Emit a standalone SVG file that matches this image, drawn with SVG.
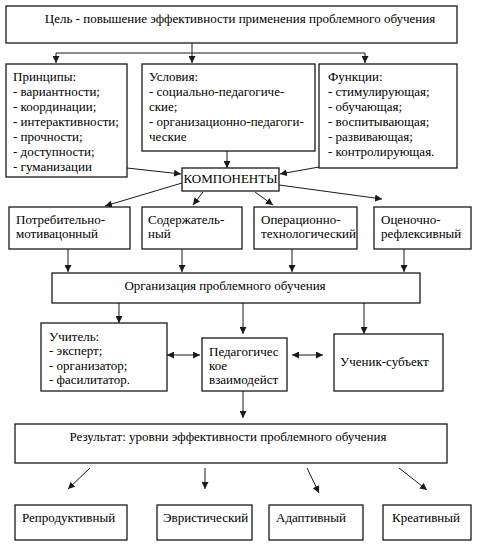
<svg xmlns="http://www.w3.org/2000/svg" width="477" height="546" viewBox="0 0 477 546">
<style>
.box{fill:#fff;stroke:#1a1a1a;stroke-width:1.3}
text{font-family:"Liberation Serif","Times New Roman",serif;font-size:13px;fill:#000}
.c{stroke:#1a1a1a;stroke-width:1;fill:none}
.a{marker-end:url(#ah)}
.d{marker-end:url(#ah);marker-start:url(#as)}
</style>
<defs>
<marker id="ah" viewBox="0 0 10 10" refX="10" refY="5" markerWidth="7" markerHeight="7" markerUnits="userSpaceOnUse" orient="auto"><path d="M0,0 L10,5 L0,10 z" fill="#1a1a1a"/></marker>
<marker id="as" viewBox="0 0 10 10" refX="0" refY="5" markerWidth="7" markerHeight="7" markerUnits="userSpaceOnUse" orient="auto"><path d="M10,0 L0,5 L10,10 z" fill="#1a1a1a"/></marker>
</defs>
<rect width="477" height="546" fill="#fff"/>
<g id="connectors">
<path class="c a" d="M192,43 V63"/>
<path class="c" d="M56,53 H365"/>
<path class="c a" d="M56,53 V63"/>
<path class="c a" d="M365,53 V63"/>
<path class="c a" d="M227,151 V168"/>
<path class="c a" d="M127,168 L181,174"/>
<path class="c a" d="M319,167 L280,174"/>
<path class="c a" d="M182,183 L105,206"/>
<path class="c a" d="M203,192 L193,205"/>
<path class="c a" d="M255,192 L273,205"/>
<path class="c a" d="M279,185 L382,199"/>
<path class="c a" d="M68,249 V272"/>
<path class="c a" d="M182,249 V272"/>
<path class="c a" d="M292,249 V272"/>
<path class="c a" d="M404,249 V272"/>
<path class="c a" d="M119,303 V323"/>
<path class="c a" d="M243,303 V334"/>
<path class="c a" d="M364,303 V334"/>
<path class="c d" d="M167,355 H200"/>
<path class="c d" d="M292,355 H323"/>
<path class="c a" d="M243,391 V418"/>
<path class="c a" d="M90,468 L68,489"/>
<path class="c a" d="M205,468 V489"/>
<path class="c a" d="M307,468 L319,493"/>
<path class="c a" d="M399,468 L427,490"/>
</g>
<g id="goal"><rect class="box" x="6" y="6" width="451" height="37"/><text x="240" y="23" text-anchor="middle">Цель - повышение эффективности применения проблемного обучения</text></g>
<g id="principles"><rect class="box" x="6" y="64" width="121" height="113"/>
<text x="13" y="81">Принципы:</text><text x="13" y="96">- вариантности;</text><text x="13" y="111">- координации;</text><text x="13" y="126">- интерактивности;</text><text x="13" y="141">- прочности;</text><text x="13" y="156">- доступности;</text><text x="13" y="171">- гуманизации</text></g>
<g id="conditions"><rect class="box" x="142" y="64" width="173" height="87"/>
<text x="149" y="81">Условия:</text><text x="149" y="96">- социально-педагогиче-</text><text x="149" y="111">ские;</text><text x="149" y="126">- организационно-педагоги-</text><text x="149" y="141">ческие</text></g>
<g id="functions"><rect class="box" x="319" y="64" width="138" height="104"/>
<text x="328" y="81">Функции:</text><text x="328" y="96">- стимулирующая;</text><text x="328" y="111">- обучающая;</text><text x="328" y="126">- воспитывающая;</text><text x="328" y="141">- развивающая;</text><text x="328" y="156">- контролирующая.</text></g>
<g id="components"><rect class="box" x="182" y="168" width="97" height="23"/><text x="230.5" y="183" text-anchor="middle">КОМПОНЕНТЫ</text></g>
<g id="comp1"><rect class="box" x="9" y="207" width="121" height="42"/><text x="16" y="224">Потребительно-</text><text x="16" y="238">мотивацонный</text></g>
<g id="comp2"><rect class="box" x="142" y="207" width="100" height="42"/><text x="148" y="224">Содержатель-</text><text x="148" y="238">ный</text></g>
<g id="comp3"><rect class="box" x="254" y="207" width="103" height="42"/><text x="261" y="224">Операционно-</text><text x="261" y="238">технологический</text></g>
<g id="comp4"><rect class="box" x="374" y="207" width="97" height="42"/><text x="381" y="224">Оценочно-</text><text x="381" y="238">рефлексивный</text></g>
<g id="organization"><rect class="box" x="52" y="273" width="368" height="30"/><text x="225" y="290" text-anchor="middle">Организация проблемного обучения</text></g>
<g id="teacher"><rect class="box" x="41" y="323" width="126" height="68"/>
<text x="49" y="341">Учитель:</text><text x="49" y="355">- эксперт;</text><text x="49" y="370">- организатор;</text><text x="49" y="384">- фасилитатор.</text></g>
<g id="interaction"><rect class="box" x="202" y="338" width="85" height="53"/>
<text x="209" y="356">Педагогичес</text><text x="209" y="370">кое</text><text x="209" y="384">взаимодейст</text></g>
<g id="student"><rect class="box" x="334" y="334" width="109" height="57"/><text x="340" y="366">Ученик-субъект</text></g>
<g id="result"><rect class="box" x="15" y="424" width="432" height="39"/><text x="228" y="441" text-anchor="middle">Результат:  уровни эффективности проблемного обучения</text></g>
<g id="reproductive"><rect class="box" x="15" y="505" width="112" height="35"/><text x="22" y="522">Репродуктивный</text></g>
<g id="heuristic"><rect class="box" x="157" y="505" width="95" height="35"/><text x="163" y="522">Эвристический</text></g>
<g id="adaptive"><rect class="box" x="269" y="505" width="94" height="35"/><text x="276" y="522">Адаптивный</text></g>
<g id="creative"><rect class="box" x="383" y="505" width="88" height="35"/><text x="392" y="522">Креативный</text></g>
</svg>
